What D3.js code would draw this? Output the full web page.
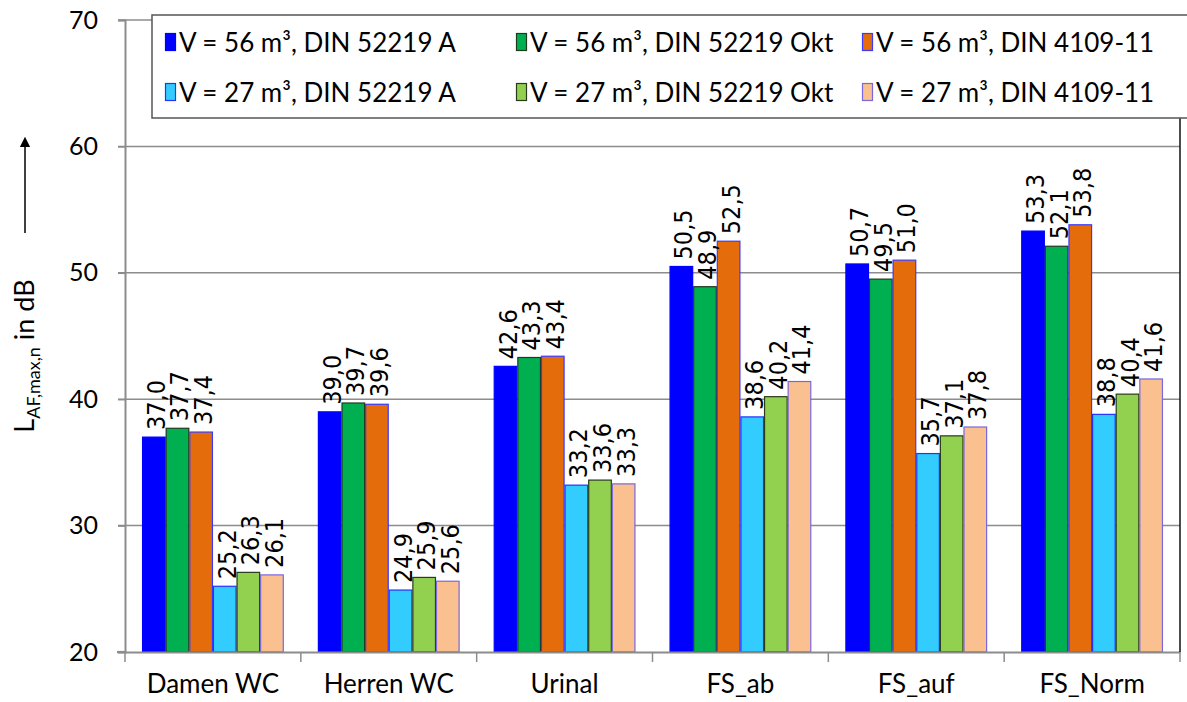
<!DOCTYPE html>
<html>
<head>
<meta charset="utf-8">
<script src="https://cdn.jsdelivr.net/npm/d3@7"></script>
<style>
  html, body { margin: 0; padding: 0; background: #fff; }
  svg { display: block; }
  .tick-label, .cat-label, .legend-text, .axis-title { font-family: Lato, "Liberation Sans", sans-serif; fill: #000; }
  .value-label { font-family: "DejaVu Sans Condensed", "DejaVu Sans", sans-serif; fill: #000; }
</style>
</head>
<body>
<svg id="chart" width="1187" height="702"></svg>
<script>
// Measurement locations
const categories = ["Damen WC", "Herren WC", "Urinal", "FS_ab", "FS_auf", "FS_Norm"];

// Series names (legend order: column-wise, 56 m³ on top row)
const seriesNames = [
  "V = 56 m³, DIN 52219 A",
  "V = 56 m³, DIN 52219 Okt",
  "V = 56 m³, DIN 4109-11",
  "V = 27 m³, DIN 52219 A",
  "V = 27 m³, DIN 52219 Okt",
  "V = 27 m³, DIN 4109-11"
];

// L_AF,max,n in dB per series, one value per category
const v56_A    = [37.0, 39.0, 42.6, 50.5, 50.7, 53.3];
const v56_Okt  = [37.7, 39.7, 43.3, 48.9, 49.5, 52.1];
const v56_4109 = [37.4, 39.6, 43.4, 52.5, 51.0, 53.8];
const v27_A    = [25.2, 24.9, 33.2, 38.6, 35.7, 38.8];
const v27_Okt  = [26.3, 25.9, 33.6, 40.2, 37.1, 40.4];
const v27_4109 = [26.1, 25.6, 33.3, 41.4, 37.8, 41.6];

const yTicks = [20, 30, 40, 50, 60, 70];

const seriesValues = [v56_A, v56_Okt, v56_4109, v27_A, v27_Okt, v27_4109];
const fills   = ["#0000ff", "#00b050", "#e46c0a", "#33ccff", "#92d050", "#fac090"];
const strokes = ["#0000ff", "#1f3b1f", "#3a3aff", "#2233ff", "#2a3a1a", "#7a66dd"];

const svg = d3.select("#chart");
const plot = { left: 125, right: 1180, top: 20, bottom: 652 };

const y = d3.scaleLinear().domain([20, 70]).range([plot.bottom, plot.top]);
const x0 = d3.scaleBand().domain(categories).range([plot.left, plot.right]).padding(0);
const gap = x0.bandwidth() * 0.097;
const x1 = d3.scaleBand().domain(d3.range(seriesNames.length))
  .range([gap, x0.bandwidth() - gap]).padding(0);

// horizontal gridlines
svg.append("g")
  .selectAll("line")
  .data(yTicks.filter(t => t > 20))
  .join("line")
  .attr("x1", plot.left - 7).attr("x2", plot.right)
  .attr("y1", d => y(d)).attr("y2", d => y(d))
  .attr("stroke", "#8c8c8c").attr("stroke-width", 1.5);

// bars
const groups = svg.append("g")
  .selectAll("g")
  .data(categories)
  .join("g")
  .attr("transform", d => `translate(${x0(d)},0)`);

groups.selectAll("rect")
  .data((c, ci) => seriesValues.map((vals, si) => ({ si, v: vals[ci] })))
  .join("rect")
  .attr("x", d => x1(d.si) + 0.5)
  .attr("y", d => y(d.v))
  .attr("width", x1.bandwidth() - 1)
  .attr("height", d => plot.bottom - y(d.v))
  .attr("fill", d => fills[d.si])
  .attr("stroke", d => strokes[d.si])
  .attr("stroke-width", 1.2);

// value labels, rotated
const fmt = v => v.toFixed(1).replace(".", ",");
groups.selectAll("text")
  .data((c, ci) => seriesValues.map((vals, si) => ({ si, v: vals[ci] })))
  .join("text")
  .attr("class", "value-label")
  .attr("font-size", 25)
  .attr("transform", d => `translate(${x1(d.si) + x1.bandwidth() / 2 + 2},${y(d.v) - 7}) rotate(-90)`)
  .attr("dy", "0.36em")
  .attr("text-anchor", "start")
  .text(d => fmt(d.v));

// y axis
const yAxis = d3.axisLeft(y).tickValues(yTicks).tickSize(7).tickFormat(d3.format("d"));
const ya = svg.append("g").attr("transform", `translate(${plot.left},0)`).call(yAxis);
ya.select(".domain").attr("stroke", "#8c8c8c").attr("stroke-width", 2);
ya.selectAll(".tick line").attr("stroke", "#8c8c8c").attr("stroke-width", 1.5);
ya.selectAll(".tick text").attr("class", "tick-label").attr("font-size", 25)
  .attr("x", -27).attr("fill", "#000");

// x axis
const xAxis = d3.axisBottom(x0).tickSize(0).tickSizeOuter(0);
const xa = svg.append("g").attr("transform", `translate(0,${plot.bottom})`).call(xAxis);
xa.select(".domain").attr("stroke", "#8c8c8c").attr("stroke-width", 2.2);
xa.selectAll(".tick text").attr("class", "cat-label").attr("font-size", 26)
  .attr("y", 23).attr("dy", "0.71em").attr("fill", "#000");
// category separator ticks
svg.append("g").selectAll("line")
  .data(d3.range(categories.length + 1))
  .join("line")
  .attr("x1", i => plot.left + i * x0.step()).attr("x2", i => plot.left + i * x0.step())
  .attr("y1", plot.bottom).attr("y2", plot.bottom + 10)
  .attr("stroke", "#8c8c8c").attr("stroke-width", 1.5);
svg.append("line")
  .attr("x1", plot.left - 8).attr("x2", plot.left)
  .attr("y1", plot.bottom).attr("y2", plot.bottom)
  .attr("stroke", "#8c8c8c").attr("stroke-width", 2.2);

// right frame line
svg.append("line")
  .attr("x1", plot.right).attr("x2", plot.right)
  .attr("y1", plot.top).attr("y2", plot.bottom)
  .attr("stroke", "#111").attr("stroke-width", 1.5);

// y axis title with arrow
const title = svg.append("text")
  .attr("class", "axis-title")
  .attr("transform", "translate(34,356) rotate(-90)")
  .attr("text-anchor", "middle")
  .attr("font-size", 27);
title.append("tspan").text("L");
title.append("tspan").attr("font-size", 18).attr("dy", 6).text("AF,max,n");
title.append("tspan").attr("dy", -6).text(" in dB");

svg.append("defs").append("marker")
  .attr("id", "arrowhead").attr("viewBox", "0 0 10 10")
  .attr("refX", 5).attr("refY", 5).attr("markerWidth", 7).attr("markerHeight", 9)
  .attr("orient", "auto")
  .append("path").attr("d", "M0,0 L10,5 L0,10 Z").attr("fill", "#000");
svg.append("line")
  .attr("x1", 25).attr("x2", 25).attr("y1", 233).attr("y2", 142)
  .attr("stroke", "#000").attr("stroke-width", 1.5)
  .attr("marker-end", "url(#arrowhead)");

// legend
const legend = svg.append("g");
legend.append("rect")
  .attr("x", 152).attr("y", 15).attr("width", 1045).attr("height", 103)
  .attr("fill", "#fff").attr("stroke", "#555").attr("stroke-width", 1.5);
const colX = [165, 516, 862];
const rowY = [42, 92];
seriesNames.forEach((name, i) => {
  const col = i % 3, row = Math.floor(i / 3);
  const g = legend.append("g").attr("transform", `translate(${colX[col]},${rowY[row]})`);
  g.append("rect").attr("x", 0.5).attr("y", -8.5).attr("width", 10).attr("height", 17)
    .attr("fill", fills[i]).attr("stroke", strokes[i]).attr("stroke-width", 1.2);
  g.append("text").attr("class", "legend-text").attr("x", 14).attr("y", 9.5)
    .attr("font-size", 26).text(name);
});
</script>
</body>
</html>
